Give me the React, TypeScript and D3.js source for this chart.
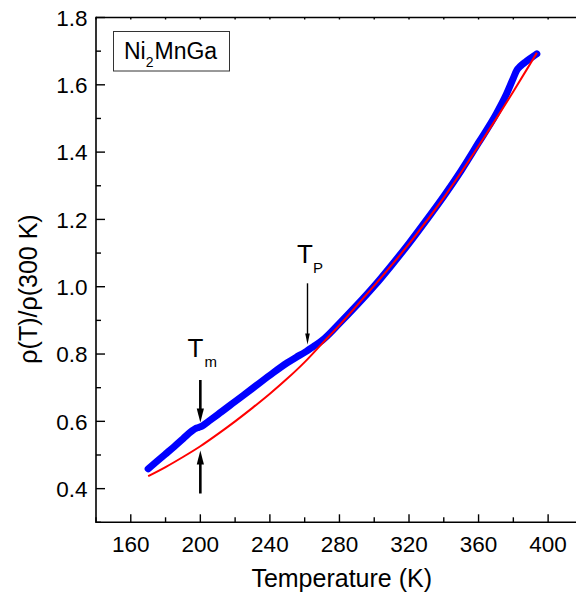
import { useEffect, useRef } from "react";
import * as d3 from "d3";

// measured curve (blue) and fit (red), T in K, rho normalised to 300 K
const blueT = [170, 175, 180, 185, 190, 195, 197, 199, 201, 205, 210, 220, 230, 240, 250, 255, 260, 265, 270, 280, 290, 300, 310, 320, 330, 340, 350, 360, 370, 376, 380, 382, 384, 387, 390, 393.5];
const blueR = [0.459, 0.481, 0.503, 0.525, 0.548, 0.571, 0.578, 0.582, 0.586, 0.601, 0.62, 0.659, 0.698, 0.737, 0.774, 0.79, 0.805, 0.822, 0.84, 0.891, 0.945, 1.002, 1.064, 1.129, 1.198, 1.269, 1.345, 1.428, 1.512, 1.572, 1.62, 1.643, 1.655, 1.668, 1.679, 1.692];
const redT = [170, 180, 190, 200, 210, 220, 230, 240, 250, 260, 270, 280, 290, 300, 310, 320, 330, 340, 350, 360, 370, 380, 390, 393.5];
const redR = [0.437, 0.464, 0.494, 0.526, 0.562, 0.6, 0.64, 0.682, 0.727, 0.776, 0.831, 0.886, 0.944, 1.003, 1.064, 1.127, 1.195, 1.265, 1.34, 1.418, 1.498, 1.58, 1.665, 1.695];

const xMajor = [160, 200, 240, 280, 320, 360, 400];
const yMajor = [0.4, 0.6, 0.8, 1.0, 1.2, 1.4, 1.6, 1.8];

const FONT = "'Liberation Sans', Arial, Helvetica, sans-serif";

export default function App() {
  const svgRef = useRef<SVGSVGElement>(null);

  useEffect(() => {
    const el = svgRef.current;
    if (!el) return;
    d3.select(el).selectAll("*").remove();
    const svg = d3.select(el);

    const x = d3.scaleLinear().domain([140, 420]).range([96, 582.9]);
    const y = d3.scaleLinear().domain([0.3, 1.8]).range([522.3, 17.5]);
    const [x0] = x.range();
    const [yb, yt] = y.range();

    // curves
    const line = d3
      .line<[number, number]>()
      .x((d) => x(d[0]))
      .y((d) => y(d[1]))
      .curve(d3.curveMonotoneX);
    const blue = blueT.map((t, i) => [t, blueR[i]] as [number, number]);
    const red = redT.map((t, i) => [t, redR[i]] as [number, number]);

    svg
      .append("path")
      .attr("d", line(blue))
      .attr("fill", "none")
      .attr("stroke", "#0000ff")
      .attr("stroke-width", 7)
      .attr("stroke-linecap", "round")
      .attr("stroke-linejoin", "round");
    svg
      .append("path")
      .attr("d", line(red))
      .attr("fill", "none")
      .attr("stroke", "#ff0000")
      .attr("stroke-width", 2);

    // axes frame
    const ax = svg.append("g").attr("stroke", "#000").attr("stroke-width", 1.6);
    ax.append("line").attr("x1", x0).attr("x2", 580).attr("y1", yb).attr("y2", yb);
    ax.append("line").attr("x1", x0).attr("x2", 580).attr("y1", yt).attr("y2", yt);
    ax.append("line").attr("x1", x0).attr("x2", x0).attr("y1", yt - 0.8).attr("y2", yb + 0.8);

    const tk = svg.append("g").attr("stroke", "#000").attr("stroke-width", 1.4);
    d3.range(140, 421, 20).forEach((t) => {
      const major = xMajor.includes(t);
      tk.append("line")
        .attr("x1", x(t)).attr("x2", x(t))
        .attr("y1", yb).attr("y2", yb - (major ? 8 : 5));
      tk.append("line")
        .attr("x1", x(t)).attr("x2", x(t))
        .attr("y1", yt).attr("y2", yt + 2);
    });
    d3.range(3, 19).map((v) => v / 10).forEach((v) => {
      const major = yMajor.some((m) => Math.abs(m - v) < 1e-6);
      tk.append("line")
        .attr("x1", x0).attr("x2", x0 + (major ? 9 : 5))
        .attr("y1", y(v)).attr("y2", y(v));
    });

    // tick labels
    svg
      .append("g")
      .selectAll("text")
      .data(xMajor)
      .enter()
      .append("text")
      .attr("x", (d) => x(d))
      .attr("y", yb + 29.4)
      .attr("text-anchor", "middle")
      .style("font-family", FONT)
      .style("font-size", "22.5px")
      .text((d) => d);
    svg
      .append("g")
      .selectAll("text")
      .data(yMajor)
      .enter()
      .append("text")
      .attr("x", 87.5)
      .attr("y", (d) => y(d) + 8.3)
      .attr("text-anchor", "end")
      .style("font-family", FONT)
      .style("font-size", "22.5px")
      .text((d) => d.toFixed(1));

    // axis titles
    svg
      .append("text")
      .attr("x", 341.7)
      .attr("y", 586.7)
      .attr("text-anchor", "middle")
      .style("font-family", FONT)
      .style("font-size", "25px")
      .text("Temperature (K)");
    svg
      .append("text")
      .attr("transform", "translate(36.5,289) rotate(-90)")
      .attr("text-anchor", "middle")
      .style("font-family", FONT)
      .style("font-size", "25px")
      .text("ρ(T)/ρ(300 K)");

    // sample label
    svg
      .append("rect")
      .attr("x", 113.5)
      .attr("y", 31.5)
      .attr("width", 116)
      .attr("height", 39.5)
      .attr("fill", "#fff")
      .attr("stroke", "#333")
      .attr("stroke-width", 1);
    const lbl = svg
      .append("text")
      .attr("x", 124)
      .attr("y", 58.5)
      .style("font-family", FONT)
      .style("font-size", "23px");
    lbl.append("tspan").text("Ni");
    lbl.append("tspan").attr("dy", 8).style("font-size", "14px").text("2");
    lbl.append("tspan").attr("dy", -8).attr("dx", 1).text("MnGa");

    // arrows
    const arrow = (xc: number, yFrom: number, yTo: number, w: number, hw: number, hl: number) => {
      const dir = yTo > yFrom ? 1 : -1;
      svg
        .append("line")
        .attr("x1", xc).attr("x2", xc)
        .attr("y1", yFrom).attr("y2", yTo - dir * hl * 0.8)
        .attr("stroke", "#000")
        .attr("stroke-width", w);
      svg
        .append("path")
        .attr("d", `M${xc},${yTo} L${xc - hw},${yTo - dir * hl} L${xc + hw},${yTo - dir * hl} Z`)
        .attr("fill", "#000");
    };
    arrow(x(200), 380, 422.5, 2.6, 3.6, 14);
    arrow(x(200), 493.5, 450.5, 2.6, 3.6, 14);
    arrow(307.5, 283.3, 344.5, 1.4, 2.3, 11);

    // transition labels
    const tm = svg
      .append("text")
      .attr("x", 187.5)
      .attr("y", 357.3)
      .style("font-family", FONT)
      .style("font-size", "26px");
    tm.append("tspan").text("T");
    tm.append("tspan").attr("dy", 10).attr("dx", 1).style("font-size", "15px").text("m");
    const tp = svg
      .append("text")
      .attr("x", 297)
      .attr("y", 263.3)
      .style("font-family", FONT)
      .style("font-size", "26px");
    tp.append("tspan").text("T");
    tp.append("tspan").attr("dy", 10).attr("dx", 0).style("font-size", "15px").text("P");
  }, []);

  return (
    <svg
      ref={svgRef}
      width={576}
      height={598}
      style={{ position: "absolute", left: 0, top: 0, background: "#fff" }}
    />
  );
}
